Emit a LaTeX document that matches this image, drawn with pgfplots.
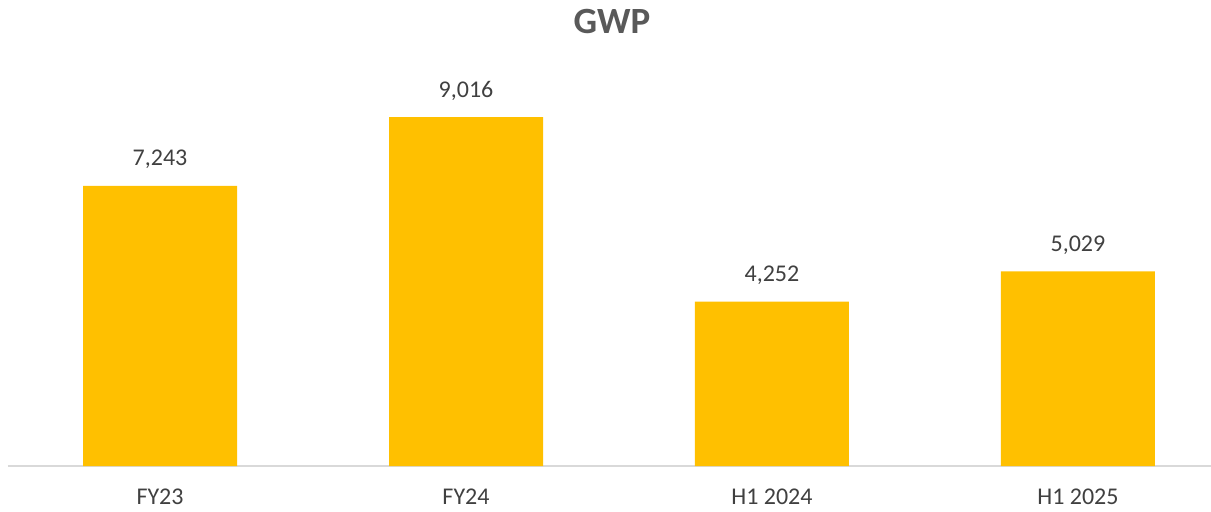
\documentclass[border=0pt]{standalone}
\usepackage{fontspec}
\setmainfont{Carlito}
\usepackage{pgfplots}
\pgfplotsset{compat=1.18}
\definecolor{barfill}{HTML}{FFC000}
\definecolor{labelgray}{HTML}{404040}
\definecolor{titlegray}{HTML}{595959}
\definecolor{basegray}{HTML}{D9D9D9}

\begin{document}
\begin{tikzpicture}
\path[use as bounding box] (-4pt,-22.5pt) rectangle (601.5pt,233pt);
\begin{axis}[
    at={(0,0)}, anchor=south west,
    scale only axis,
    width=601.5pt, height=233pt,
    xmin=-0.497, xmax=3.435,
    ymin=0, ymax=12046,
    axis x line=bottom,
    axis y line=none,
    x axis line style={draw=basegray, line width=1pt, -},
    xtick={0,1,2,3},
    xticklabels={FY23,FY24,H1 2024,H1 2025},
    major tick length=0pt,
    xticklabel style={font=\fontsize{12}{14}\selectfont, text=labelgray, yshift=-8pt},
    ytick=\empty,
    clip=false,
    /pgf/number format/.cd, fixed, precision=0, 1000 sep={,}, assume math mode=true,
]
\addplot[ybar, bar width=77pt, fill=barfill, draw=none,
    nodes near coords,
    every node near coord/.append style={font=\fontsize{12}{14}\selectfont, text=labelgray, yshift=5pt}]
    coordinates {(0,7243) (1,9016) (2,4252) (3,5029)};
\node[font=\bfseries\fontsize{18.5}{22}\selectfont, text=titlegray, anchor=center]
    at (axis description cs:0.502,0.953) {GWP};
\end{axis}
\end{tikzpicture}
\end{document}
